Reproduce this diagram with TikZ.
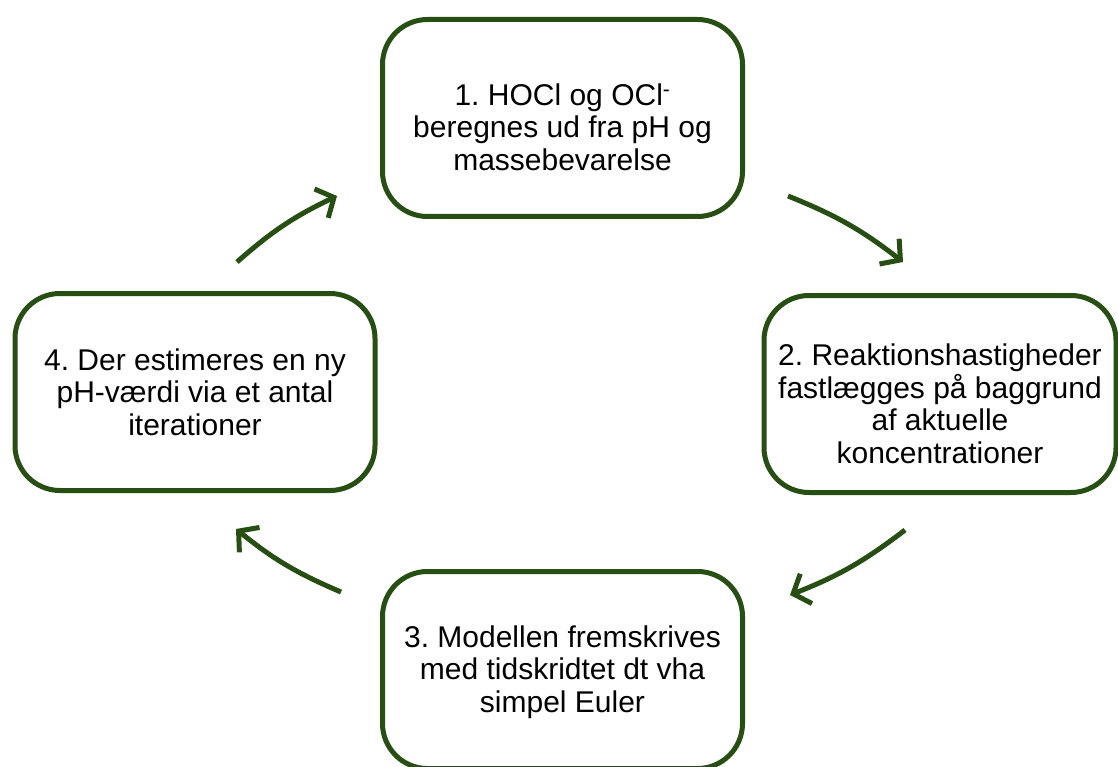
\documentclass[tikz,border=0pt]{standalone}
\usepackage{fontspec}
\setmainfont{Liberation Sans}
\usetikzlibrary{arrows.meta}
\definecolor{dkgreen}{RGB}{39,78,19}
\tikzset{
  stepbox/.style={draw=dkgreen, line width=5pt, rounded corners=45pt, fill=white,
    minimum width=360pt, minimum height=197pt, inner sep=0pt},
  steptext/.style={align=center, inner sep=0pt,
    font=\fontsize{30pt}{32.5pt}\selectfont},
  cyc/.style={draw=dkgreen, line width=5pt,
    -{Straight Barb[length=14pt, width=32pt, line width=5pt]}}
}
\frenchspacing
\begin{document}
\begin{tikzpicture}[x=1pt,y=-1pt]
\useasboundingbox (0,0) rectangle (1118,767);
\clip (0,0) rectangle (1118,767);
\node[stepbox] (b1) at (562.5,118) {};
\node[stepbox, minimum width=352pt] (b2) at (940,394) {};
\node[stepbox] (b3) at (562.5,670) {};
\node[stepbox] (b4) at (195,392) {};
\node[steptext] (t1) at ([yshift=-9pt]b1.center) {1. HOCl og OCl\textsuperscript{-}\\beregnes ud fra pH og\\massebevarelse};
\node[steptext] (t2) at ([yshift=-10pt]b2.center) {2. Reaktionshastigheder\\fastlægges på baggrund\\af aktuelle\\koncentrationer};
\node[steptext] (t3) at ([yshift=-2pt]b3.center) {3. Modellen fremskrives\\med tidskridtet dt vha\\simpel Euler};
\node[steptext] (t4) at (b4.center) {4. Der estimeres en ny\\pH-værdi via et antal\\iterationer};
\coordinate (a1s) at (237,262); \coordinate (a1e) at (337,196);
\coordinate (a2s) at (788,196); \coordinate (a2e) at (903,262);
\coordinate (a3s) at (905,530); \coordinate (a3e) at (790,595);
\coordinate (a4s) at (341,592); \coordinate (a4e) at (236,529);
\draw[cyc] (a1s) to[bend left=8] (a1e);
\draw[cyc] (a2s) to[bend left=8] (a2e);
\draw[cyc] (a3s) to[bend left=8] (a3e);
\draw[cyc] (a4s) to[bend left=8] (a4e);
\end{tikzpicture}
\end{document}
